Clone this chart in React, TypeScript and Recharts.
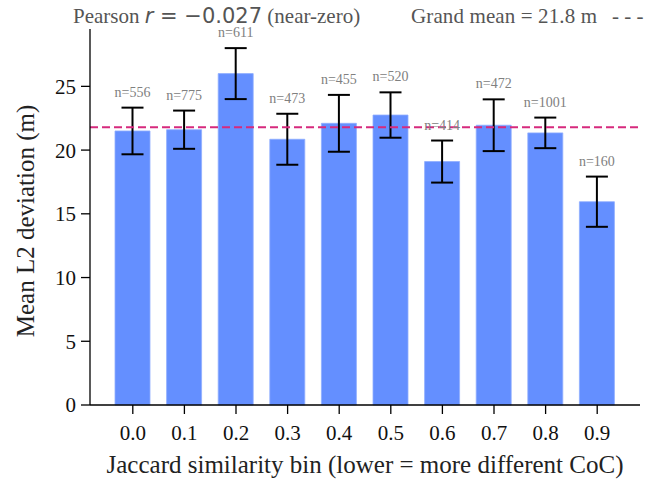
import React from "react";
import { BarChart, Bar, XAxis, YAxis, ErrorBar, ReferenceLine, LabelList } from "recharts";

// Jaccard similarity bins and the per-bin stats
const bins = ["0.0", "0.1", "0.2", "0.3", "0.4", "0.5", "0.6", "0.7", "0.8", "0.9"];
const meanDev = [21.5, 21.6, 26.0, 20.85, 22.1, 22.75, 19.1, 21.95, 21.35, 15.95];
const errHalf = [1.83, 1.5, 2.0, 2.0, 2.23, 1.78, 1.65, 2.03, 1.2, 1.97];
const counts = [556, 775, 611, 473, 455, 520, 414, 472, 1001, 160];
const yTicks = [0, 5, 10, 15, 20, 25];
const grandMean = 21.8;
const pearsonR = "\u22120.027";

const data = bins.map((bin, i) => ({ bin, mean: meanDev[i], err: errHalf[i], n: counts[i] }));

const SERIF = '"Liberation Serif", "Times New Roman", serif';
const SANS = '"DejaVu Sans", sans-serif';
const BAR = "#648FFF";
const MEAN_LINE = "#D62A7D";

const CountLabel = (props: any) => {
  const { x, y, width, height, index } = props;
  const v = meanDev[index];
  if (!v || height == null) return null;
  const pxPerUnit = height / v;
  const errTop = y - errHalf[index] * pxPerUnit;
  return (
    <text
      x={x + width / 2}
      y={errTop - 11}
      textAnchor="middle"
      fontFamily={SERIF}
      fontSize={14}
      fill="#808080"
    >
      {`n=${counts[index]}`}
    </text>
  );
};

export default function App() {
  return (
    <div style={{ position: "absolute", left: 0, top: 0, width: 654, height: 481, background: "#fff" }}>
      <BarChart
        width={654}
        height={481}
        data={data}
        margin={{ top: 29, right: 14, left: 0, bottom: 0 }}
        barSize={35}
      >
        <XAxis
          dataKey="bin"
          height={76}
          padding={{ left: 17, right: 17 }}
          tick={{ fontSize: 21, fill: "#111", fontFamily: SERIF }}
          tickSize={9}
          tickMargin={11}
          axisLine={{ stroke: "#000", strokeWidth: 1.3 }}
          tickLine={{ stroke: "#000", strokeWidth: 1.3 }}
        />
        <YAxis
          width={90}
          domain={[0, 29.5]}
          ticks={yTicks}
          tick={{ fontSize: 21, fill: "#111", fontFamily: SERIF }}
          tickSize={9}
          tickMargin={5}
          axisLine={{ stroke: "#000", strokeWidth: 1.3 }}
          tickLine={{ stroke: "#000", strokeWidth: 1.3 }}
        />
        <Bar dataKey="mean" fill={BAR} stroke="#8FADFF" strokeWidth={0.8} isAnimationActive={false}>
          <ErrorBar dataKey="err" direction="y" width={11} stroke="#000" strokeWidth={2} isAnimationActive={false} />
          <LabelList dataKey="n" content={CountLabel} />
        </Bar>
        <ReferenceLine y={grandMean} stroke={MEAN_LINE} strokeWidth={2} strokeDasharray="8 4" />
      </BarChart>
      <svg width={654} height={481} style={{ position: "absolute", left: 0, top: 0, pointerEvents: "none" }}>
        <text x={73} y={23} fontFamily={SERIF} fontSize={21} fill="#555">
          Pearson{" "}
          <tspan fontFamily={SANS} fontStyle="italic">r</tspan>
          <tspan fontFamily={SANS}>{` = ${pearsonR}`}</tspan> (near-zero)
        </text>
        <text x={411} y={23} fontFamily={SERIF} fontSize={21} fill="#555" textLength="186" lengthAdjust="spacing">
          {`Grand mean = ${grandMean} m`}
        </text>
        <text x={612} y={23} fontFamily={SERIF} fontSize={21} fill="#555">
          - - -
        </text>
        <text x={365} y={473} textAnchor="middle" fontFamily={SERIF} fontSize={25} fill="#222">
          Jaccard similarity bin (lower = more different CoC)
        </text>
        <text
          x={34}
          y={221}
          transform="rotate(-90 34 221)"
          textAnchor="middle"
          fontFamily={SERIF}
          fontSize={25}
          fill="#222"
        >
          Mean L2 deviation (m)
        </text>
      </svg>
    </div>
  );
}
